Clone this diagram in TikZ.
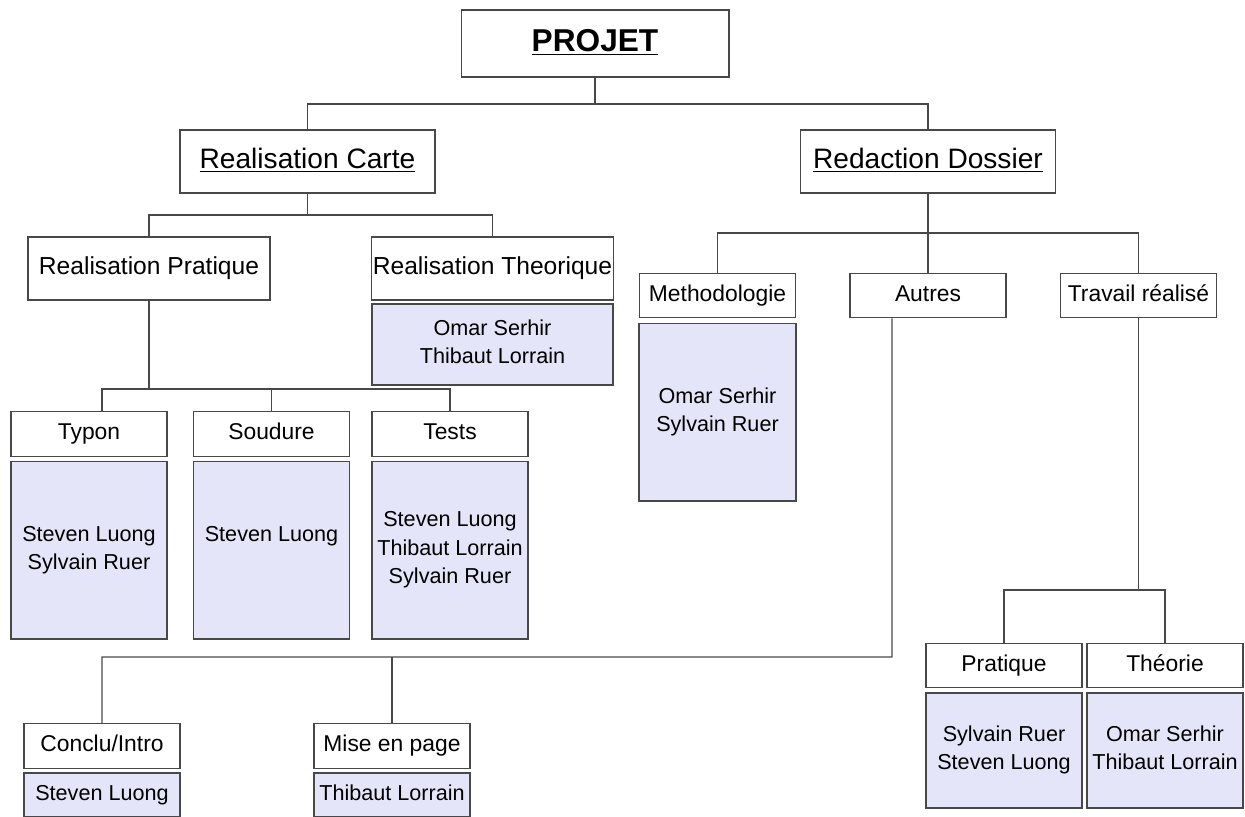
\documentclass[tikz,border=0pt]{standalone}
\usepackage{fontspec}
\setmainfont{Liberation Sans}
\usetikzlibrary{calc}
\definecolor{lavande}{RGB}{229,229,249}
\definecolor{trait}{RGB}{72,72,72}
\tikzset{
    boite/.style={draw=trait, line width=0.6pt, inner sep=0pt, align=center},
    racine/.style={boite, minimum width=5.36cm, minimum height=1.34cm, text height=13pt, text depth=4pt, font=\fontsize{18}{20}\selectfont\bfseries},
    niveau/.style={boite, minimum width=5.1cm, minimum height=1.26cm, text height=11.5pt, text depth=3.5pt, font=\fontsize{16}{18}\selectfont},
    partie/.style={boite, minimum width=4.84cm, minimum height=1.26cm, text height=10pt, text depth=3pt, font=\fontsize{14}{16}\selectfont},
    tete/.style={boite, minimum width=3.12cm, minimum height=0.89cm, text height=9.4pt, text depth=2.8pt, font=\fontsize{13}{15}\selectfont},
    noms/.style={boite, fill=lavande, minimum width=#1, text depth=2.8pt, font=\fontsize{12.3}{16}\selectfont},
    lien/.style={draw=trait, line width=0.7pt},
  }
\begin{document}
\begin{tikzpicture}[x=0.02cm, y=-0.02cm]
    \useasboundingbox (0,0) rectangle (1245,816);

    %PROJET
    \node[racine] (projet) at (595,43.5) {\underline{PROJET}};
    \node[niveau] (carte) at (307.5,161.5) {\underline{Realisation Carte}};
    \node[niveau] (dossier) at (928,161.5) {\underline{Redaction Dossier}};
    \coordinate (b1) at (595,104);
    \draw[lien] (projet.south) -- (b1);
    \draw[lien] (carte.north) |- (b1) -| (dossier.north);

    %Realisation Carte
    \node[partie] (pratique) at (149,268.5) {Realisation Pratique};
    \node[partie] (theorique) at (492.5,268.5) {Realisation Theorique};
    \node[noms=4.82cm, minimum height=1.62cm] (ntheorique) at (492.5,344.5) {Omar Serhir\\Thibaut Lorrain};
    \coordinate (b2) at (307.5,215);
    \draw[lien] (carte.south) -- (b2);
    \draw[lien] (pratique.north) |- (b2) -| (theorique.north);

    %Realisation Pratique
    \node[tete] (typon) at (89,434) {Typon};
    \node[tete] (soudure) at (271.5,434) {Soudure};
    \node[tete] (tests) at (450,434) {Tests};
    \node[noms=3.12cm, minimum height=3.56cm] (ntypon) at (89,550) {Steven Luong\\Sylvain Ruer};
    \node[noms=3.12cm, minimum height=3.56cm] (nsoudure) at (271.5,550) {Steven Luong\\\phantom{Sylvain Ruer}};
    \node[noms=3.12cm, minimum height=3.56cm] (ntests) at (450,550) {Steven Luong\\Thibaut Lorrain\\Sylvain Ruer};
    \coordinate (b3) at (149,389);
    \draw[lien] (pratique.south) -- (b3);
    \draw[lien] ([xshift=0.26cm]typon.north) |- (b3) -| (tests.north);
    \draw[lien] (b3 -| soudure.north) -- (soudure.north);

    %Redaction Dossier
    \node[tete] (methodo) at (717.5,295.5) {Methodologie};
    \node[tete] (autres) at (928,295.5) {Autres};
    \node[tete] (travail) at (1138.5,295.5) {Travail réalisé};
    \node[noms=3.14cm, minimum height=3.56cm] (nmethodo) at (717.5,412) {Omar Serhir\\Sylvain Ruer};
    \coordinate (b4) at (928,233);
    \draw[lien] (dossier.south) -- (b4);
    \draw[lien] (methodo.north) |- (b4) -| (travail.north);
    \draw[lien] (b4) -- (autres.north);

    %Autres
    \node[tete] (conclu) at (102,746) {Conclu/Intro};
    \node[tete] (mise) at (392,746) {Mise en page};
    \node[noms=3.12cm, minimum height=0.88cm] (nconclu) at (102,795) {Steven Luong};
    \node[noms=3.12cm, minimum height=0.88cm] (nmise) at (392,795) {Thibaut Lorrain};
    \coordinate (b5) at (892,657);
    \draw[lien] ([xshift=-0.72cm]autres.south) -- (b5) -| (conclu.north);
    \draw[lien] (b5 -| mise.north) -- (mise.north);

    %Travail realise
    \node[tete] (pratiq) at (1004,665.5) {Pratique};
    \node[tete] (theorie) at (1165,665.5) {Théorie};
    \node[noms=3.12cm, minimum height=2.3cm] (npratiq) at (1004,750.5) {Sylvain Ruer\\Steven Luong};
    \node[noms=3.12cm, minimum height=2.3cm] (ntheorie) at (1165,750.5) {Omar Serhir\\Thibaut Lorrain};
    \coordinate (b6) at (1138.5,590);
    \draw[lien] (travail.south) -- (b6);
    \draw[lien] (pratiq.north) |- (b6) -| (theorie.north);
\end{tikzpicture}
\end{document}
